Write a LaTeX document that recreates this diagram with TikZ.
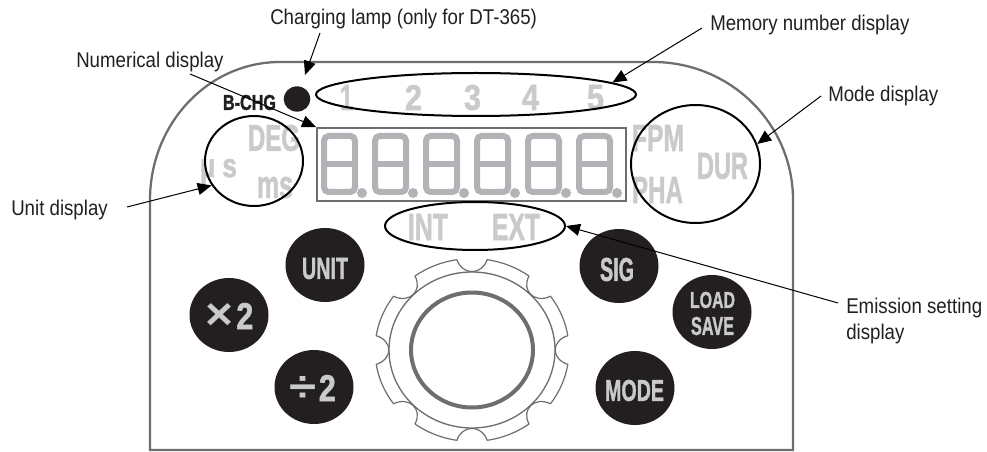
\documentclass[tikz,border=0pt]{standalone}
\usepackage{fontspec}
\usepackage{graphicx}
\usetikzlibrary{shapes.geometric,arrows.meta}
\setmainfont{Liberation Sans}[FakeStretch=0.875]
\newfontfamily\dispfont{Liberation Sans Bold}[FakeBold=1.6]
\newfontfamily\signfont{Liberation Sans Bold}
\newdimen\pxu \pxu=0.75pt
\newcommand{\dtx}[3]{\resizebox{#1\pxu}{#2\pxu}{\dispfont #3}}
\newcommand{\sgn}[3]{\resizebox{#1\pxu}{#2\pxu}{\signfont #3}}
\definecolor{inkc}{HTML}{231F20}
\definecolor{outl}{HTML}{6D6E71}
\definecolor{lcdc}{HTML}{B1B3B6}
\definecolor{litc}{HTML}{C8CACC}
\tikzset{
  lbl/.style={inner sep=0pt,anchor=base west,text=inkc,font=\fontsize{16}{19.5}\selectfont},
  disp/.style={inner sep=0pt,text=litc},
  btn/.style={ellipse,fill=inkc,draw=none,inner sep=0pt,minimum width=59.25pt,minimum height=55.5pt},
  btntxt/.style={inner sep=0pt,text=litc},
  ring/.style={ellipse,draw=black,line width=1.5pt,inner sep=0pt},
  lead/.style={draw=black,line width=0.75pt,-{Triangle[length=10.5pt,width=9pt]}},
  seg/.style={draw=lcdc,line width=4.5pt},
  body/.style={draw=outl,line width=1.7pt},
  knob/.style={draw=outl,line width=0.9pt}
}
\begin{document}
\begin{tikzpicture}[x=0.75pt,y=-0.75pt]
\useasboundingbox (0,0) rectangle (987,452);
\fill[white] (0,0) rectangle (987,452);

% housing
\draw[body] (150,450) -- (150,200) arc[start angle=180,end angle=270,x radius=130,y radius=138]
  -- (653,62) arc[start angle=270,end angle=360,x radius=140,y radius=138] -- (793,450) -- cycle;

% seven-segment digits
\foreach \i in {0,...,5}{
  \begin{scope}[shift={(\i*51,0)}]
    \draw[seg,rounded corners=3.5pt] (324,136) rectangle (355,192);
    \draw[seg] (324,164) -- (355,164);
    \fill[lcdc] (362,193) circle[radius=5];
  \end{scope}
}

% grey legends
\node[disp] (m1) at (346.5,97.5) {\dtx{13}{25}{1}};
\node[disp] (m2) at (413.5,97.5) {\dtx{17}{25}{2}};
\node[disp] (m3) at (472.5,97.5) {\dtx{17}{25}{3}};
\node[disp] (m4) at (530.5,97.5) {\dtx{17}{25}{4}};
\node[disp] (m5) at (595.5,97.5) {\dtx{17}{25}{5}};
\node[disp] (deg) at (274,138) {\dtx{52}{26}{DEG}};
\node[disp,anchor=base] (mus) at (218.5,177) {\dtx{37}{18}{µ s}};
\node[disp] (ms) at (275,187.5) {\dtx{36}{21}{ms}};
\node[disp] (fpm) at (658,138) {\dtx{52}{26}{FPM}};
\node[disp] (pha) at (657.5,190) {\dtx{51}{26}{PHA}};
\node[disp] (dur) at (722.5,166) {\dtx{51}{26}{DUR}};
\node[disp] (int) at (428,227) {\dtx{40}{26}{INT}};
\node[disp] (ext) at (516,227) {\dtx{48}{26}{EXT}};

% display outlines
\node[draw=outl,line width=1.5pt,inner sep=0pt,minimum width=231.75pt,minimum height=54.75pt] (num) at (471.5,164.5) {};
\node[ring,minimum width=240pt,minimum height=32.25pt] (mem) at (476,94.5) {};
\node[ring,minimum width=73.5pt,minimum height=67.5pt] (unitc) at (254,161) {};
\node[ring,minimum width=96.75pt,minimum height=88.5pt] (modec) at (695.5,164) {};
\node[ring,minimum width=135pt,minimum height=36pt] (emis) at (475,226) {};

% lamp and B-CHG
\node[ellipse,fill=inkc,inner sep=0pt,minimum width=20pt,minimum height=19pt] (lamp) at (297,99) {};
\node[disp,text=inkc] (bchg) at (249.5,102.5) {\dtx{53}{15}{B-CHG}};

% buttons
\node[btn] (bunit) at (325,265) {};
\node[btn] (btimes) at (229,315) {};
\node[btn] (bdiv) at (314,387) {};
\node[btn] (bsig) at (619,266) {};
\node[btn] (bload) at (712,312) {};
\node[btn] (bmode) at (635,388) {};
\node[btntxt] (tunit) at (325,268.5) {\dtx{46}{21}{UNIT}};
\node[btntxt] (ttimes) at (229.5,316) {\sgn{28}{26}{×}\hspace{2pt}\dtx{17}{26}{2}};
\node[btntxt] (tdiv) at (312.5,388) {\sgn{27}{25}{÷}\hspace{2pt}\dtx{17}{26}{2}};
\node[btntxt] (tsig) at (617,269.5) {\dtx{34}{23}{SIG}};
\node[btntxt] (tload) at (712.5,300) {\dtx{45}{16}{LOAD}};
\node[btntxt] (tsave) at (712.5,326) {\dtx{43}{18}{SAVE}};
\node[btntxt] (tmode) at (634.5,390.5) {\dtx{59}{21}{MODE}};

% dial
\begin{scope}[shift={(472,350)},x=72.75pt,y=-68.6pt]
  \draw[knob] \foreach \a in {0,45,...,315}{
    ({\a-9}:1) .. controls ({\a-7}:0.82) and ({\a+7}:0.82) .. ({\a+9}:1)
    arc[start angle={\a+9},end angle={\a+36},radius=1]
  };
\end{scope}
\draw[knob,line width=1pt] (472,350) ellipse[x radius=83,y radius=78];
\draw[draw=outl,line width=3pt] (472,350) ellipse[x radius=61,y radius=57.5];

% labels
\node[lbl] (lcharge) at (270,25) {Charging lamp (only for DT-365)};
\node[lbl] (lnum) at (76,68) {Numerical display};
\node[lbl] (lmem) at (710,31) {Memory number display};
\node[lbl] (lmode) at (828,102) {Mode display};
\node[lbl] (lunit) at (11,215) {Unit display};
\node[lbl,anchor=north west,align=left] (lemis) at (846,297.5) {Emission setting\\display};

% leader lines
\coordinate (scharge) at (320,33);
\coordinate (tcharge) at (305,75);
\coordinate (snum) at (190,74);
\coordinate (smem) at (702,28);
\coordinate (smode) at (821,96);
\coordinate (sunit) at (127,207);
\coordinate (semis) at (838,303);
\draw[lead] (scharge) -- (tcharge);
\draw[lead] (snum) -- (num.north west);
\draw[lead] (smem) -- (mem.5.5);
\draw[lead] (smode) -- (modec.18);
\draw[lead] (sunit) -- (unitc.210.6);
\draw[lead] (semis) -- (emis.east);
\end{tikzpicture}
\end{document}
